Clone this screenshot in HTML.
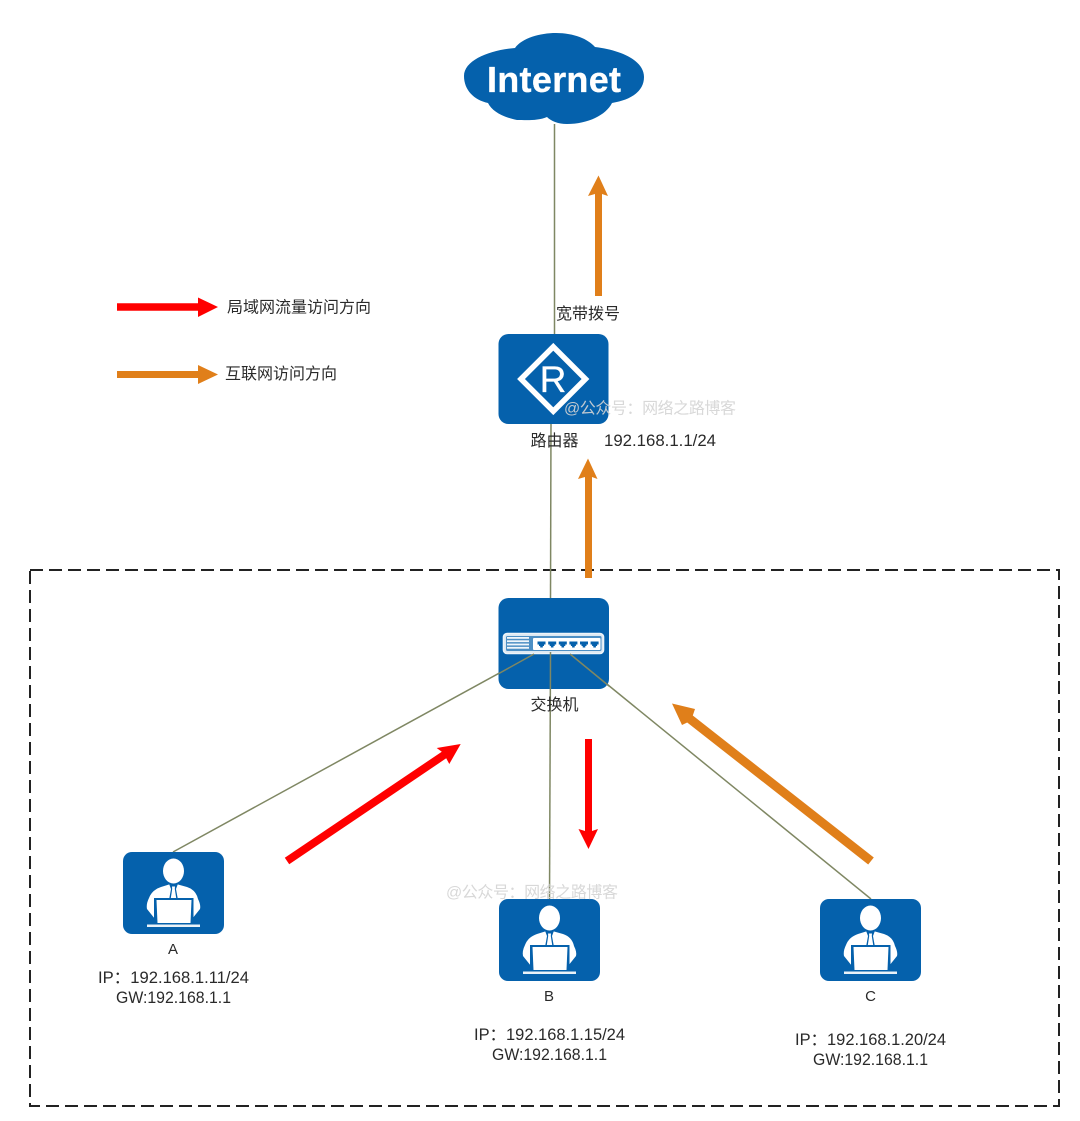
<!DOCTYPE html>
<html><head><meta charset="utf-8">
<style>
html,body{margin:0;padding:0;background:#fff}
svg{display:block}
text{font-family:"Liberation Sans","Noto Sans CJK SC",sans-serif;font-size:16.5px;fill:#2a2a2a}
.c{font-size:16px}
.n{font-size:15px}
.wm{font-size:16px;fill:#d4d4d4;opacity:.9}
</style></head><body>
<svg width="1080" height="1121" viewBox="0 0 1080 1121" xmlns="http://www.w3.org/2000/svg">
<defs>
<g id="person">
  <rect x="0" y="0" width="101" height="82" rx="9" fill="#0561ac"/>
  <ellipse cx="50.500" cy="19" rx="10.500" ry="12.500" fill="#fff"/>
  <path d="M38 35 L46 32.500 L50 35 L51 35 L55 32.500 L64 35 Q73 38 75 47 Q78 53 77 57 L69 67 L32 67 L24 57 Q23 52 26 46 Q29 38 38 35Z" fill="#fff"/>
  <path d="M46.500 33 L54.500 33 L53 37 L55 48 L46 48 L48 37Z" fill="#0561ac"/>
  <path d="M49 34.500 L52 34.500 L51.800 37 L53.500 48 L47.500 48 L49.200 37Z" fill="#fff"/>
  <path d="M31 46 H70.500 V72 H31Z" fill="#0561ac"/>
  <path d="M33.500 48 H68.500 L67.500 71 H34.500Z" fill="#fff"/>
  <rect x="24" y="72.500" width="53" height="2.500" fill="#eaf2f8"/>
</g>
</defs>

<rect x="30" y="570" width="1029" height="536" fill="none" stroke="#222" stroke-width="2" stroke-dasharray="13 6"/>

<!-- connectors -->
<g stroke="#7f8763" stroke-width="1.500" fill="none">
  <line x1="554.500" y1="124" x2="554.500" y2="336"/>
  <line x1="551" y1="422" x2="550.500" y2="600"/>
  <line x1="534" y1="654" x2="173" y2="852"/>
  <line x1="550.500" y1="652" x2="549.500" y2="900"/>
  <line x1="570" y1="654" x2="871" y2="899"/>
</g>

<!-- cloud -->
<path fill="#0561ac" d="M515 48 C522 38 540 33 556 33 C574 33 588 39 595 47 C620 50 644 60 644 77 C644 92 630 100 612 103 C606 115 588 124 567 124 C558 124 551 121 547 117 C538 121 526 120 517 120 C502 117 492 111 488 103 C474 100 464 90 464 76 C464 60 490 50 515 48Z"/>
<text x="554" y="92" text-anchor="middle" textLength="134" style="font-size:36px;font-weight:bold;fill:#fff;stroke:#fff;stroke-width:.3">Internet</text>

<!-- router -->
<rect x="498.500" y="334" width="110" height="90" rx="10" fill="#0561ac"/>
<path d="M553.300 346.800 L585.500 379 L553.300 411.200 L521 379Z" fill="none" stroke="#fff" stroke-width="5.500"/>
<text x="553" y="392" text-anchor="middle" style="font-size:37px;fill:#fff;stroke:#fff;stroke-width:.3">R</text>

<!-- switch -->
<rect x="498.500" y="598" width="110.500" height="91" rx="10" fill="#0561ac"/>
<rect x="503.500" y="633.500" width="100" height="20" rx="3.500" fill="#dbe8f3" stroke="#eef4f9" stroke-width="1.600"/>
<rect x="506" y="636" width="95.500" height="15" rx="1.500" fill="#4d8fc4"/>
<rect x="533" y="638" width="67.500" height="12" rx="1" fill="#fff"/>
<g fill="#f0f6fb">
  <rect x="507" y="637" width="22" height="1.800"/>
  <rect x="507" y="640.300" width="22" height="1.800"/>
  <rect x="507" y="643.600" width="22" height="1.800"/>
  <rect x="507" y="646.900" width="22" height="1.800"/>
</g>
<g fill="#0561ac">
  <path d="M537.500 641.500 h8 v3 h-1.500 v1.500 h-1.200 v1.500 h-2.600 v-1.500 h-1.200 v-1.500 h-1.500z"/>
  <path d="M548.200 641.500 h8 v3 h-1.500 v1.500 h-1.200 v1.500 h-2.600 v-1.500 h-1.200 v-1.500 h-1.500z"/>
  <path d="M558.800 641.500 h8 v3 h-1.500 v1.500 h-1.200 v1.500 h-2.600 v-1.500 h-1.200 v-1.500 h-1.500z"/>
  <path d="M569.400 641.500 h8 v3 h-1.500 v1.500 h-1.200 v1.500 h-2.600 v-1.500 h-1.200 v-1.500 h-1.500z"/>
  <path d="M580 641.500 h8 v3 h-1.500 v1.500 h-1.200 v1.500 h-2.600 v-1.500 h-1.200 v-1.500 h-1.500z"/>
  <path d="M590.600 641.500 h8 v3 h-1.500 v1.500 h-1.200 v1.500 h-2.600 v-1.500 h-1.200 v-1.500 h-1.500z"/>
</g>
<g stroke="#7f8763" stroke-width="1.500" fill="none">
  <line x1="534" y1="654" x2="498" y2="674"/>
  <line x1="550.500" y1="652" x2="550.400" y2="689"/>
  <line x1="570" y1="654" x2="609" y2="686"/>
</g>

<!-- persons -->
<use href="#person" x="123" y="852"/>
<use href="#person" x="499" y="899"/>
<use href="#person" x="820" y="899"/>

<!-- arrows -->
<g fill="#e07f1a">
  <path d="M595 296 V194 L588 196 L598.500 175.500 L608 196 L602 194 V296Z"/>
  <path d="M585 578 V477 L578 479 L588 458.500 L597.500 479 L592 477 V578Z"/>
  <path d="M873.800 857.500 L692.800 715.500 L695 709 L672 703.500 L682 725 L687.200 722.500 L868.200 864.500Z"/>
  <path d="M117 371 H198 V365 L218 374.500 L198 384 V378 H117Z"/>
</g>
<g fill="#ff0000">
  <path d="M585 739 H592 V831 L598 829 L588.500 849 L578.500 829 L585 831Z"/>
  <path d="M284.800 857.700 L441.800 751.700 L436.700 748 L460.700 744 L449.300 764 L446.200 758.300 L289.200 864.300Z"/>
  <path d="M117 303.300 H198 V297.500 L218 307 L198 317 V310.700 H117Z"/>
</g>

<!-- labels -->
<text class="c" x="588" y="319" text-anchor="middle">宽带拨号</text>
<text class="c" x="554.500" y="446" text-anchor="middle">路由器</text>
<text x="660" y="446" text-anchor="middle" textLength="112" lengthAdjust="spacingAndGlyphs">192.168.1.1/24</text>
<text class="c" x="554.500" y="710" text-anchor="middle">交换机</text>

<text class="c" x="227" y="312.500">局域网流量访问方向</text>
<text class="c" x="225" y="379">互联网访问方向</text>

<text class="n" x="173" y="954" text-anchor="middle">A</text>
<text x="173.500" y="983" text-anchor="middle" textLength="151" lengthAdjust="spacingAndGlyphs">IP：192.168.1.11/24</text>
<text x="173.500" y="1003" text-anchor="middle" textLength="115" lengthAdjust="spacingAndGlyphs">GW:192.168.1.1</text>

<text class="n" x="549" y="1001" text-anchor="middle">B</text>
<text x="549.500" y="1040" text-anchor="middle" textLength="151" lengthAdjust="spacingAndGlyphs">IP：192.168.1.15/24</text>
<text x="549.500" y="1060" text-anchor="middle" textLength="115" lengthAdjust="spacingAndGlyphs">GW:192.168.1.1</text>

<text class="n" x="870.500" y="1001" text-anchor="middle">C</text>
<text x="870.500" y="1045" text-anchor="middle" textLength="151" lengthAdjust="spacingAndGlyphs">IP：192.168.1.20/24</text>
<text x="870.500" y="1065" text-anchor="middle" textLength="115" lengthAdjust="spacingAndGlyphs">GW:192.168.1.1</text>

<text class="wm" x="564" y="413.500" textLength="172">@公众号：网络之路博客</text>
<text class="wm" x="446" y="897.500" textLength="172">@公众号：网络之路博客</text>
</svg>
</body></html>
